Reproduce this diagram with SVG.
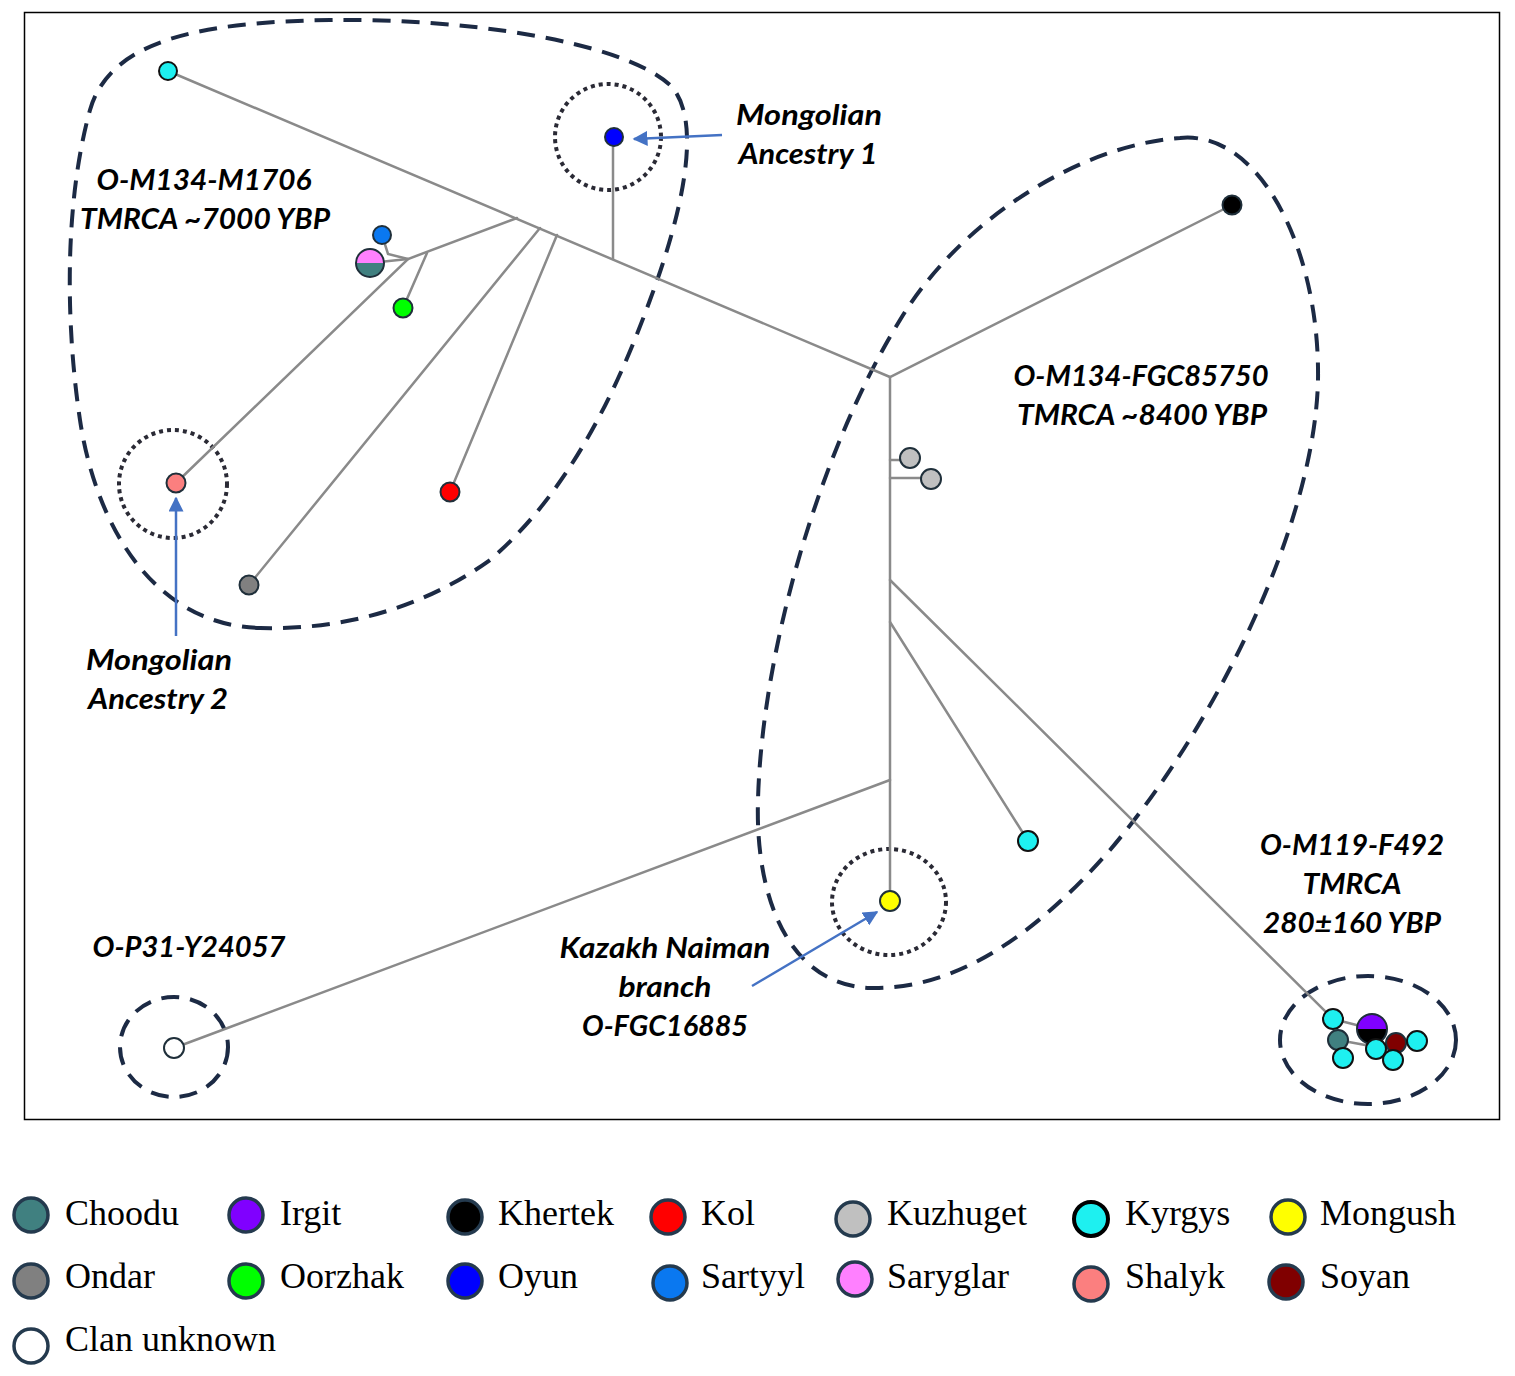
<svg xmlns="http://www.w3.org/2000/svg" width="1515" height="1376" viewBox="0 0 1515 1376">
<defs>
<style>
.br{stroke:#8a8a8a;stroke-width:2.5;fill:none;stroke-linecap:round}
.nd{stroke:#1f2f3a;stroke-width:2}
.ky{stroke:#111;stroke-width:2}
.dash{fill:none;stroke:#1c2a44;stroke-width:4;stroke-dasharray:18 11}
.dot{fill:none;stroke:#2a2a35;stroke-width:4;stroke-dasharray:4 4}
.arr{stroke:#4472c4;stroke-width:2.5;fill:none}
.lb{font-family:Lato,"Open Sans",sans-serif;font-weight:bold;font-style:italic;font-size:29px;fill:#000;text-anchor:middle}
.lg{font-family:"Liberation Serif","Times New Roman",serif;font-size:36px;fill:#000}
.lc{stroke:#243a4e;stroke-width:3.5}
</style>
<marker id="ah" viewBox="0 0 10 10" refX="9" refY="5" markerWidth="6" markerHeight="6" orient="auto" markerUnits="strokeWidth">
<path d="M0,0 L10,5 L0,10 Z" fill="#4472c4"/>
</marker>
</defs>
<rect width="1515" height="1376" fill="#fff"/>
<rect x="24.5" y="12.5" width="1475" height="1107" fill="none" stroke="#000" stroke-width="1.5"/>

<g id="groups">
<path class="dash" d="M260,628 C150,625 95,520 80,420 C65,320 65,200 90,110 C110,40 200,22 330,20 C460,18 620,40 670,85 C705,120 680,220 650,300 C610,410 560,500 490,560 C420,610 340,630 260,628 Z"/>
<path class="dash" d="M1180,138 C1260,130 1320,250 1318,380 C1315,520 1220,720 1110,850 C1040,930 960,990 870,988 C790,985 755,900 758,800 C762,650 820,450 900,320 C960,220 1080,145 1180,138 Z"/>
<ellipse class="dash" cx="174" cy="1047" rx="54" ry="50"/>
<ellipse class="dash" cx="1368" cy="1040" rx="88" ry="64"/>
<circle class="dot" cx="608" cy="137" r="53"/>
<circle class="dot" cx="173" cy="484" r="54"/>
<ellipse class="dot" cx="889" cy="902" rx="57" ry="53"/>
</g>

<g id="connectors">
<path class="br" d="M168,71 L890,377 L1232,205"/>
<path class="br" d="M613,137 L613,259"/>
<path class="br" d="M890,377 L890,901"/>
<path class="br" d="M890,460 L910,460 M890,478 L931,478"/>
<path class="br" d="M890,580 L1333,1019"/>
<path class="br" d="M890,622 L1028,841"/>
<path class="br" d="M890,780 L174,1048"/>
<path class="br" d="M517,218 L408,259 L176,483"/>
<path class="br" d="M427,253 L403,308"/>
<path class="br" d="M408,259 L370,263"/>
<path class="br" d="M382,235 L388,254 L408,259"/>
<path class="br" d="M540,228 L249,585"/>
<path class="br" d="M557,235 L450,492"/>
<path class="br" d="M1333,1019 L1372,1029"/>
<path class="br" d="M1338,1040 L1376,1047"/>
<path class="arr" d="M722,135 L634,139" marker-end="url(#ah)"/>
<path class="arr" d="M176,636 L176,498" marker-end="url(#ah)"/>
<path class="arr" d="M752,986 L877,912" marker-end="url(#ah)"/>
</g>

<g id="nodes">
<circle id="n-kyrgys1" class="ky" cx="168" cy="71" r="9" fill="#1ef0f0"/>
<circle id="n-oyun" class="nd" cx="614" cy="137" r="9" fill="#0000ff"/>
<circle id="n-black" class="nd" cx="1232" cy="205" r="9.5" fill="#000"/>
<circle id="n-sartyyl" class="nd" cx="382" cy="235" r="9" fill="#0a78f0"/>
<g id="n-saryglar-choodu">
<path d="M356,263 A14,14 0 0 1 384,263 Z" fill="#ff80ff"/>
<path d="M356,263 A14,14 0 0 0 384,263 Z" fill="#408080"/>
<circle class="nd" cx="370" cy="263" r="14" fill="none"/>
</g>
<circle id="n-oorzhak" class="nd" cx="403" cy="308" r="9.5" fill="#00ff00"/>
<circle id="n-shalyk" class="nd" cx="176" cy="483" r="9.5" fill="#fb7f7f"/>
<circle id="n-kol" class="nd" cx="450" cy="492" r="9.5" fill="#ff0000"/>
<circle id="n-ondar" class="nd" cx="249" cy="585" r="9.5" fill="#808080"/>
<circle id="n-kuz1" class="nd" cx="910" cy="458" r="10" fill="#c0c0c0"/>
<circle id="n-kuz2" class="nd" cx="931" cy="479" r="10" fill="#c0c0c0"/>
<circle id="n-kyrgys2" class="ky" cx="1028" cy="841" r="10" fill="#1ef0f0"/>
<circle id="n-mongush" class="nd" cx="890" cy="901" r="10" fill="#ffff00"/>
<circle id="n-unknown" class="nd" cx="174" cy="1048" r="10" fill="#fff"/>
<g id="n-cluster">
<circle class="ky" cx="1333" cy="1019" r="10" fill="#1ef0f0"/>
<path d="M1357,1029 A15,15 0 0 1 1387,1029 Z" fill="#8000ff"/>
<path d="M1357,1029 A15,15 0 0 0 1387,1029 Z" fill="#000"/>
<circle class="nd" cx="1372" cy="1029" r="15" fill="none"/>
<circle class="nd" cx="1338" cy="1040" r="10" fill="#408080"/>
<circle class="ky" cx="1343" cy="1058" r="10" fill="#1ef0f0"/>
<circle class="nd" cx="1396" cy="1043" r="10" fill="#800000"/>
<circle class="ky" cx="1417" cy="1041" r="10" fill="#1ef0f0"/>
<circle class="ky" cx="1376" cy="1049" r="10" fill="#1ef0f0"/>
<circle class="ky" cx="1393" cy="1060" r="10" fill="#1ef0f0"/>
</g>
</g>

<g id="labels">
<text class="lb" x="809" y="125" textLength="146" lengthAdjust="spacingAndGlyphs">Mongolian</text>
<text class="lb" x="808" y="164" textLength="139" lengthAdjust="spacingAndGlyphs">Ancestry 1</text>
<text class="lb" x="204" y="190" textLength="215" lengthAdjust="spacingAndGlyphs">O-M134-M1706</text>
<text class="lb" x="205" y="229" textLength="250" lengthAdjust="spacingAndGlyphs">TMRCA ~7000 YBP</text>
<text class="lb" x="1141" y="386" textLength="255" lengthAdjust="spacingAndGlyphs">O-M134-FGC85750</text>
<text class="lb" x="1142" y="425" textLength="250" lengthAdjust="spacingAndGlyphs">TMRCA ~8400 YBP</text>
<text class="lb" x="159" y="670" textLength="146" lengthAdjust="spacingAndGlyphs">Mongolian</text>
<text class="lb" x="158" y="709" textLength="140" lengthAdjust="spacingAndGlyphs">Ancestry 2</text>
<text class="lb" x="1352" y="855" textLength="184" lengthAdjust="spacingAndGlyphs">O-M119-F492</text>
<text class="lb" x="1352" y="894" textLength="99" lengthAdjust="spacingAndGlyphs">TMRCA</text>
<text class="lb" x="1352" y="933" textLength="178" lengthAdjust="spacingAndGlyphs">280±160 YBP</text>
<text class="lb" x="189" y="957" textLength="193" lengthAdjust="spacingAndGlyphs">O-P31-Y24057</text>
<text class="lb" x="665" y="958" textLength="211" lengthAdjust="spacingAndGlyphs">Kazakh Naiman</text>
<text class="lb" x="665" y="997" textLength="93" lengthAdjust="spacingAndGlyphs">branch</text>
<text class="lb" x="665" y="1036" textLength="166" lengthAdjust="spacingAndGlyphs">O-FGC16885</text>
</g>

<g id="legend">
<circle class="lc" cx="31" cy="1215" r="17" fill="#408080"/><text class="lg" x="65" y="1225">Choodu</text>
<circle class="lc" cx="246" cy="1215" r="17" fill="#8000ff"/><text class="lg" x="280" y="1225">Irgit</text>
<circle class="lc" cx="465" cy="1217" r="17" fill="#000"/><text class="lg" x="498" y="1225">Khertek</text>
<circle class="lc" cx="668" cy="1217" r="17" fill="#ff0000"/><text class="lg" x="701" y="1225">Kol</text>
<circle class="lc" cx="853" cy="1219" r="17" fill="#c0c0c0"/><text class="lg" x="887" y="1225">Kuzhuget</text>
<circle cx="1091" cy="1219" r="17" fill="#1ef0f0" stroke="#000" stroke-width="4"/><text class="lg" x="1125" y="1225">Kyrgys</text>
<circle class="lc" cx="1288" cy="1217" r="17" fill="#ffff00"/><text class="lg" x="1320" y="1225">Mongush</text>
<circle class="lc" cx="31" cy="1281" r="17" fill="#808080"/><text class="lg" x="65" y="1288">Ondar</text>
<circle class="lc" cx="246" cy="1281" r="17" fill="#00ff00"/><text class="lg" x="280" y="1288">Oorzhak</text>
<circle class="lc" cx="465" cy="1281" r="17" fill="#0000ff"/><text class="lg" x="498" y="1288">Oyun</text>
<circle class="lc" cx="670" cy="1283" r="17" fill="#0a78f0"/><text class="lg" x="701" y="1288">Sartyyl</text>
<circle class="lc" cx="855" cy="1279" r="17" fill="#ff80ff"/><text class="lg" x="887" y="1288">Saryglar</text>
<circle class="lc" cx="1091" cy="1284" r="17" fill="#fb7f7f"/><text class="lg" x="1125" y="1288">Shalyk</text>
<circle class="lc" cx="1286" cy="1282" r="17" fill="#800000"/><text class="lg" x="1320" y="1288">Soyan</text>
<circle class="lc" cx="31" cy="1346" r="17" fill="#fff"/><text class="lg" x="65" y="1351">Clan unknown</text>
</g>
</svg>
